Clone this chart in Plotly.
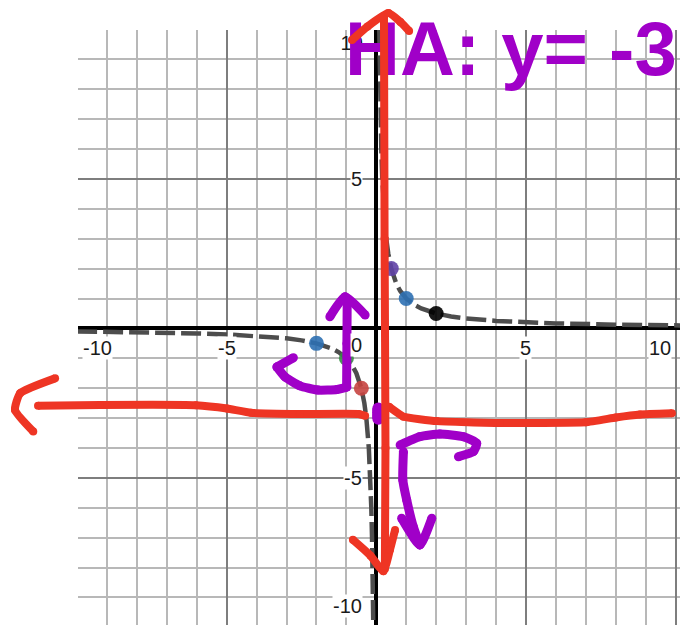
import plotly.graph_objects as go

# ---- graph of y = 1/x, sampled values (two branches) ----
left_x = [-10, -8, -6, -5, -4, -3, -2.5, -2, -1.5, -1.25, -1, -0.8, -0.667,
          -0.5, -0.4, -0.333, -0.25, -0.2, -0.167, -0.143, -0.125, -0.111, -0.1]
left_y = [-0.1, -0.125, -0.167, -0.2, -0.25, -0.333, -0.4, -0.5, -0.667, -0.8,
          -1, -1.25, -1.5, -2, -2.5, -3, -4, -5, -6, -7, -8, -9, -10]
right_x = [0.1, 0.111, 0.125, 0.143, 0.167, 0.2, 0.25, 0.333, 0.4, 0.5, 0.667,
           0.8, 1, 1.25, 1.5, 2, 2.5, 3, 4, 5, 6, 8, 10, 10.5]
right_y = [10, 9, 8, 7, 6, 5, 4, 3, 2.5, 2, 1.5, 1.25, 1, 0.8, 0.667, 0.5,
           0.4, 0.333, 0.25, 0.2, 0.167, 0.125, 0.1, 0.095]

# ---- highlighted points on the curve ----
point_x = [0.5, 1, 2, -2, -1, -0.5]
point_y = [2, 1, 0.5, -0.5, -1, -2]
point_colors = ["#6042a6", "#2d70b3", "#000000", "#2d70b3", "#388c46", "#c74440"]

# ---- axis labels ----
x_label_vals = [-10, -5, 5, 10]
x_label_text = ["-10", "-5", "5", "10"]
y_label_vals = [5, -5, -10]
y_label_text = ["5", "-5", "-10"]
top_label = "10"
origin_label = "0"

# ---- handwritten note ----
note_text = "HA: y= -3"

# ---- pen strokes, in graph units ----
red_vert_x = [0.25, 0.27, 0.3, 0.28]
red_vert_y = [10.45, 3.0, -4.0, -8.05]
red_top_head_x = [-0.82, -0.3, 0.4, 0.8, 1.09]
red_top_head_y = [9.65, 10.1, 10.55, 10.25, 9.95]
red_bot_head_x = [-0.79, -0.2, 0.23, 0.45, 0.62]
red_bot_head_y = [-7.07, -7.6, -8.12, -7.4, -6.74]
red_ha_left_x = [-11.32, -9.25, -6.04, -5.0, -4.2, -2.56, -0.6, -0.38]
red_ha_left_y = [-2.59, -2.56, -2.57, -2.68, -2.82, -2.86, -2.86, -2.92]
red_ha_right_x = [0.42, 0.9, 2.02, 4.13, 7.0, 8.0, 8.81, 9.88]
red_ha_right_y = [-2.62, -2.95, -3.1, -3.16, -3.14, -2.98, -2.88, -2.84]
red_left_head_x = [-10.75, -11.92, -12.09, -11.48]
red_left_head_y = [-1.67, -2.17, -2.73, -3.45]

purple_up_x = [-1.0, -0.99, -0.98]
purple_up_y = [-1.95, -0.5, 1.0]
purple_up_head_x = [-1.56, -1.05, -0.38]
purple_up_head_y = [0.39, 1.06, 0.45]
purple_curl_x = [-0.99, -1.32, -1.96, -2.56, -3.06, -3.33]
purple_curl_y = [-1.96, -2.04, -2.06, -1.92, -1.62, -1.29]
purple_curl_head_x = [-3.33, -2.78]
purple_curl_head_y = [-1.29, -0.98]
purple_hook_x = [0.79, 1.45, 2.12, 2.9, 3.35, 3.24, 2.74]
purple_hook_y = [-3.9, -3.62, -3.53, -3.62, -3.84, -4.12, -4.29]
purple_down_x = [0.9, 0.88, 1.01, 1.23, 1.45]
purple_down_y = [-4.12, -5.07, -5.74, -6.63, -7.24]
purple_down_head_x = [0.84, 1.45, 1.85]
purple_down_head_y = [-6.35, -7.24, -6.35]
purple_dot_x = [0.06, 0.06, 0.06, 0.06]
purple_dot_y = [-2.68, -2.8, -2.92, -3.02]

RED = "#ee3524"
PURPLE = "#a000c8"
CURVE = "#4d4d4d"
LABEL_FONT = dict(family="Liberation Sans, Arial, sans-serif", size=20, color="#1a1a1a")

fig = go.Figure()

# dashed curve
for xs, ys in ((left_x, left_y), (right_x, right_y)):
    fig.add_trace(go.Scatter(
        x=xs, y=ys, mode="lines",
        line=dict(color=CURVE, width=4.5, dash="20px,6px"),
        hoverinfo="skip", xaxis="x", yaxis="y"))

# points
fig.add_trace(go.Scatter(
    x=point_x, y=point_y, mode="markers",
    marker=dict(size=15, color=point_colors, opacity=0.9, line=dict(width=0)),
    hoverinfo="skip", xaxis="x", yaxis="y"))

# top y label, drawn under the pen ink
fig.add_trace(go.Scatter(
    x=[-0.45], y=[9.48], mode="text", text=[top_label],
    textposition="middle left", textfont=LABEL_FONT,
    hoverinfo="skip", xaxis="x", yaxis="y", cliponaxis=False))

# handwritten note
fig.add_trace(go.Scatter(
    x=[-1.05], y=[9.1], mode="text", text=[note_text],
    textposition="middle right",
    textfont=dict(family="Liberation Sans, Arial, sans-serif", size=76,
                  color=PURPLE, weight="bold"),
    hoverinfo="skip", xaxis="x2", yaxis="y2", cliponaxis=False))


def pen(xs, ys, color, width, smooth=0.5):
    fig.add_trace(go.Scatter(
        x=xs, y=ys, mode="lines+markers",
        line=dict(color=color, width=width, shape="spline", smoothing=smooth),
        marker=dict(size=width, color=color, line=dict(width=0)),
        hoverinfo="skip", xaxis="x2", yaxis="y2", cliponaxis=False))


PW = 9
pen(purple_dot_x, purple_dot_y, PURPLE, 12)
pen(purple_up_x, purple_up_y, PURPLE, PW)
pen(purple_up_head_x, purple_up_head_y, PURPLE, PW)
pen(purple_curl_x, purple_curl_y, PURPLE, PW)
pen(purple_curl_head_x, purple_curl_head_y, PURPLE, PW)
pen(purple_hook_x, purple_hook_y, PURPLE, PW)
pen(purple_down_x, purple_down_y, PURPLE, PW)
pen(purple_down_head_x, purple_down_head_y, PURPLE, PW)

RW = 8
pen(red_ha_left_x, red_ha_left_y, RED, RW, 0.35)
pen(red_ha_right_x, red_ha_right_y, RED, RW, 0.35)
pen(red_left_head_x, red_left_head_y, RED, RW)
pen(red_vert_x, red_vert_y, RED, RW)
pen(red_top_head_x, red_top_head_y, RED, RW)
pen(red_bot_head_x, red_bot_head_y, RED, RW)

# axis number labels with white halo boxes
ann = []
x_lo, x_hi = -9.97, 10.15
for v, t in zip(x_label_vals, x_label_text):
    if v <= x_lo + 0.3:
        ann.append(dict(x=x_lo + 0.15, xanchor="left", y=-0.65, text=t))
    elif v >= x_hi - 0.5:
        ann.append(dict(x=9.88, xanchor="right", y=-0.65, text=t))
    else:
        ann.append(dict(x=v, xanchor="center", y=-0.65, text=t))
for v, t in zip(y_label_vals, y_label_text):
    yy = max(v, -9.3)
    ann.append(dict(x=-0.45, xanchor="right", y=yy, text=t))
ann.append(dict(x=-0.45, xanchor="right", y=-0.55, text=origin_label))
for a in ann:
    a.update(xref="x", yref="y", yanchor="middle", showarrow=False,
             font=LABEL_FONT, bgcolor="white", borderpad=0)

grid_major = "#7e7e7e"
grid_minor = "#b8b8b8"
axis_common = dict(
    dtick=5, tick0=0, showgrid=True, gridcolor=grid_major, gridwidth=1.5,
    minor=dict(dtick=1, tick0=0, showgrid=True, gridcolor=grid_minor, gridwidth=1.5),
    zeroline=True, zerolinecolor="black", zerolinewidth=3.5,
    showticklabels=False, ticks="", showline=False, fixedrange=True,
)

fig.update_layout(
    width=680, height=625,
    margin=dict(l=0, r=0, t=0, b=0),
    paper_bgcolor="white", plot_bgcolor="rgba(0,0,0,0)",
    showlegend=False,
    xaxis=dict(domain=[78 / 680, 1], range=[x_lo, x_hi], anchor="y", **axis_common),
    yaxis=dict(domain=[0, 1 - 30 / 625], range=[-9.92, 9.98], anchor="x", **axis_common),
    xaxis2=dict(domain=[0, 1], range=[-12.592, 10.15], anchor="y2", visible=False, fixedrange=True),
    yaxis2=dict(domain=[0, 1], range=[-9.92, 10.987], anchor="x2", visible=False, fixedrange=True),
    annotations=ann,
)

fig.write_html("out.html")
